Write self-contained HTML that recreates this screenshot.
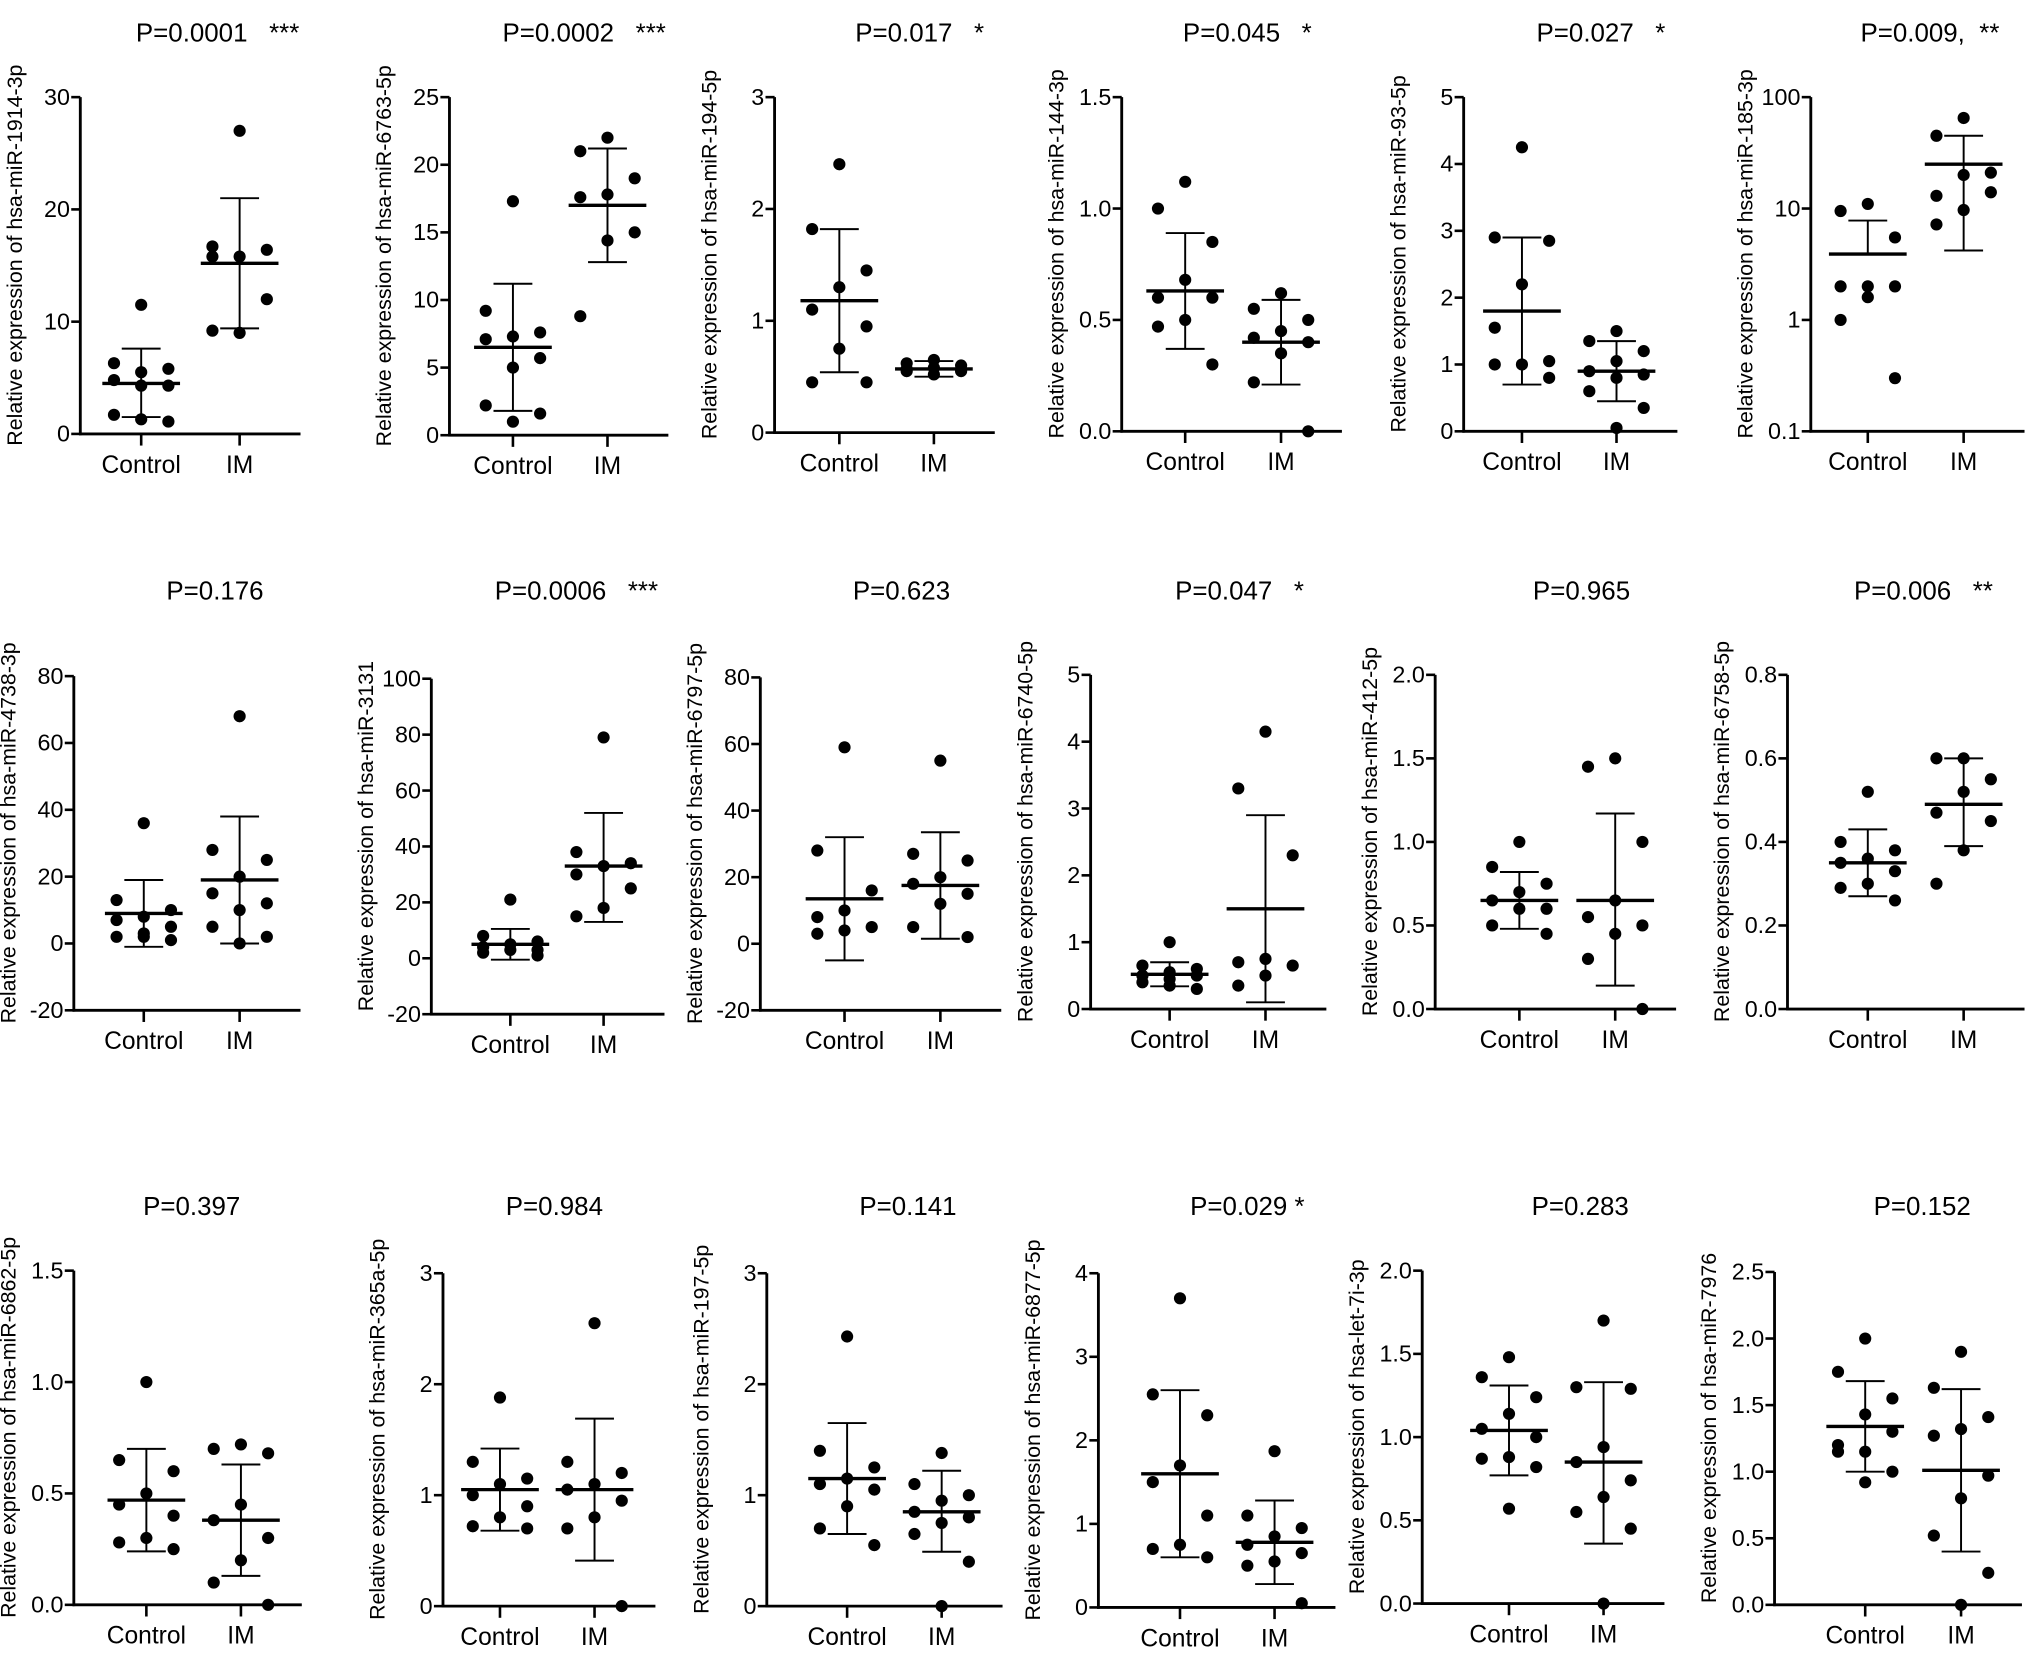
<!DOCTYPE html>
<html><head><meta charset="utf-8"><style>
html,body{margin:0;padding:0;background:#fff;}
svg{display:block;font-family:"Liberation Sans",Arial,sans-serif;}
text{white-space:pre;}
</style></head><body>
<svg id="fig" width="2031" height="1656" viewBox="0 0 1568 1278.5" preserveAspectRatio="none" xmlns="http://www.w3.org/2000/svg"></svg>
<script>
// ---- data ----
const titles = ["P=0.0001   ***","P=0.0002   ***","P=0.017   *","P=0.045   *","P=0.027   *","P=0.009,  **",
 "P=0.176","P=0.0006   ***","P=0.623","P=0.047   *","P=0.965","P=0.006   **",
 "P=0.397","P=0.984","P=0.141","P=0.029 *","P=0.283","P=0.152"];
const yLabels = ["hsa-miR-1914-3p","hsa-miR-6763-5p","hsa-miR-194-5p","hsa-miR-144-3p","hsa-miR-93-5p","hsa-miR-185-3p",
 "hsa-miR-4738-3p","hsa-miR-3131","hsa-miR-6797-5p","hsa-miR-6740-5p","hsa-miR-412-5p","hsa-miR-6758-5p",
 "hsa-miR-6862-5p","hsa-miR-365a-5p","hsa-miR-197-5p","hsa-miR-6877-5p","hsa-let-7i-3p","hsa-miR-7976"];
const categories = ["Control","IM"];
const yTicks = [[0,10,20,30],[0,5,10,15,20,25],[0,1,2,3],[0,0.5,1,1.5],[0,1,2,3,4,5],[0.1,1,10,100],
 [-20,0,20,40,60,80],[-20,0,20,40,60,80,100],[-20,0,20,40,60,80],[0,1,2,3,4,5],[0,0.5,1,1.5,2],[0,0.2,0.4,0.6,0.8],
 [0,0.5,1,1.5],[0,1,2,3],[0,1,2,3],[0,1,2,3,4],[0,0.5,1,1.5,2],[0,0.5,1,1.5,2,2.5]];
const tickFmt = [0,0,0,1,0,-1, 0,0,0,0,1,1, 1,0,0,0,1,1];
const controlVals = [
 [11.5,6.3,5.8,5.5,4.8,4.3,4.3,1.7,1.1,1.3],
 [17.3,9.2,7.6,7.3,7.1,5.7,5.0,2.2,1.6,1.0],
 [2.4,1.82,1.45,1.3,1.1,0.95,0.75,0.45,0.45],
 [1.12,1.0,0.85,0.68,0.6,0.6,0.5,0.47,0.3],
 [4.25,2.9,2.85,2.2,1.55,1.05,1.0,1.0,0.8],
 [11,9.5,5.5,2,2,2,1.6,1,0.3],
 [36,13,10,8,7,5,2,2,1,3],
 [21,8,6,5,4,3,3,2,1],
 [59,28,16,10,8,5,4,3],
 [1.0,0.65,0.6,0.55,0.5,0.5,0.45,0.4,0.3,0.35],
 [1.0,0.85,0.75,0.7,0.65,0.6,0.6,0.5,0.45],
 [0.52,0.4,0.38,0.36,0.35,0.33,0.3,0.29,0.26],
 [1.0,0.65,0.6,0.5,0.45,0.4,0.3,0.28,0.25],
 [1.88,1.3,1.15,1.1,1.0,0.9,0.8,0.72,0.7],
 [2.43,1.4,1.25,1.15,1.1,1.05,0.9,0.7,0.55],
 [3.7,2.55,2.3,1.7,1.5,1.1,0.75,0.7,0.6],
 [1.48,1.36,1.24,1.14,1.05,1.0,0.88,0.87,0.82,0.57],
 [2.0,1.75,1.55,1.43,1.2,1.3,1.15,1.15,1.0,0.92]];
const imVals = [
 [27,16.7,16.4,15.8,15.8,12,9.0,9.2],
 [22,21,19,17.8,17.6,15,14.4,8.8],
 [0.65,0.62,0.6,0.58,0.57,0.55,0.52,0.55],
 [0.62,0.55,0.5,0.45,0.42,0.4,0.35,0.22,0.0],
 [1.5,1.35,1.2,1.05,0.9,0.85,0.8,0.6,0.35,0.05],
 [65,45,21,20,13,14,9.7,7.2],
 [68,28,25,20,15,12,10,5,2,0],
 [79,38,34,33,30,25,18,15],
 [55,27,25,20,18,15,12,5,2],
 [4.15,3.3,2.3,0.75,0.7,0.65,0.5,0.35],
 [1.5,1.45,1.0,0.65,0.55,0.5,0.45,0.3,0.0],
 [0.6,0.6,0.55,0.52,0.47,0.45,0.38,0.3],
 [0.72,0.7,0.68,0.45,0.38,0.3,0.2,0.1,0.0],
 [2.55,1.3,1.2,1.1,1.05,0.95,0.8,0.7,0.0],
 [1.38,1.1,1.0,0.95,0.85,0.8,0.75,0.65,0.4,0.0],
 [1.87,1.1,0.95,0.85,0.75,0.65,0.55,0.5,0.05],
 [1.7,1.3,1.29,0.94,0.85,0.74,0.64,0.55,0.45,0.0],
 [1.9,1.63,1.41,1.32,1.27,0.97,0.8,0.52,0.24,0.0]];
const controlMean = [4.5,6.5,1.18,0.63,1.8,3.9, 9,5,13.5,0.52,0.65,0.35, 0.47,1.05,1.15,1.6,1.04,1.34];
const controlHi   = [7.6,11.2,1.82,0.89,2.9,7.8, 19,10.5,32,0.7,0.82,0.43, 0.7,1.42,1.65,2.6,1.31,1.68];
const controlLo   = [1.5,1.8,0.54,0.37,0.7,3.9, -1,-0.5,-5,0.34,0.48,0.27, 0.24,0.68,0.65,0.6,0.77,1.0];
const imMean = [15.2,17,0.57,0.4,0.9,25, 19,33,17.5,1.5,0.65,0.49, 0.38,1.05,0.85,0.78,0.85,1.01];
const imHi   = [21,21.2,0.64,0.59,1.35,45, 38,52,33.5,2.9,1.17,0.6, 0.63,1.69,1.22,1.28,1.33,1.62];
const imLo   = [9.4,12.8,0.5,0.21,0.45,4.2, 0,13,1.5,0.1,0.14,0.39, 0.13,0.41,0.49,0.28,0.36,0.4];
const jitter = [0,-1,1,0,-1,1,0,-1,1,0];

// ---- layout (display coords) ----
const L = [
 [62,335,75,109,185],[347,336,75,396,469],[598,334,75,648,721],[866,333,75,915,989],[1130,333,75,1175,1248],[1398,333,75,1442,1516],
 [57,780,522,111,185],[333,783,524,394,466],[587,780,523,652,726],[842,779,521,903,977],[1108,779,521,1173,1247],[1380,779,521,1442,1516],
 [57,1239,981,113,186],[342,1240,983,386,459],[592,1240,983,654,727],[848,1241,983,911,984],[1098,1238,981,1165,1238],[1370,1239,982,1440,1514]];
const titleX = [168,451,710,963,1236,1490, 166,445,696,957,1221,1485, 148,428,701,963,1220,1484];
const titleY = [25,25,25,25,25,25, 456,456,456,456,456,456, 931,931,931,931,931,931];

const svg = document.getElementById('fig');
const NS = 'http://www.w3.org/2000/svg';
function mk(tag, attrs, parent){const e=document.createElementNS(NS,tag);for(const k in attrs)e.setAttribute(k,attrs[k]);parent.appendChild(e);return e;}

for(let p=0;p<18;p++){
 const [ax,yb,yt,cx,ix]=L[p];
 const ticks=yTicks[p]; const isLog=tickFmt[p]===-1;
 const lo=ticks[0], hi=ticks[ticks.length-1];
 const Y = v => isLog ? yb-(Math.log10(Math.max(v,1e-3))-Math.log10(lo))/(Math.log10(hi)-Math.log10(lo))*(yb-yt)
                      : yb-(v-lo)/(hi-lo)*(yb-yt);
 const g=mk('g',{},svg);
 
 
 const t=mk('text',{x:titleX[p],y:titleY[p]+7,'font-size':20,'text-anchor':'middle'},g);
 t.textContent=titles[p];
 
 
 const yl=mk('text',{transform:`translate(${ax-45},${(yb+yt)/2-8}) rotate(-90)`,'font-size':16.5,'text-anchor':'middle'},g);
 yl.textContent='Relative expression of '+yLabels[p];
 
 
 const xEnd=ix+47;
 const ya=mk('line',{x1:ax,y1:yt,x2:ax,y2:yb+1,stroke:'#000','stroke-width':2.2},g);
 
 
 const xa=mk('line',{x1:ax-1,y1:yb,x2:xEnd,y2:yb,stroke:'#000','stroke-width':2.2},g);
 
 
 ticks.forEach(tv=>{
  const y=Y(tv);
  mk('line',{x1:ax-7,y1:y,x2:ax,y2:y,stroke:'#000','stroke-width':2},g);
  const tl=mk('text',{x:ax-8,y:y+6,'font-size':18,'text-anchor':'end'},g);
  tl.textContent = isLog? String(tv) : (tickFmt[p]===1? tv.toFixed(1): String(tv));
  
  
 });
 [cx,ix].forEach((x,k)=>{
  mk('line',{x1:x,y1:yb,x2:x,y2:yb+9,stroke:'#000','stroke-width':2},g);
  const xl=mk('text',{x:x,y:yb+30,'font-size':19,'text-anchor':'middle'},g);
  xl.textContent=categories[k];
  
  
 });
 const groups=[[cx,controlVals[p],controlMean[p],controlHi[p],controlLo[p],'control'],[ix,imVals[p],imMean[p],imHi[p],imLo[p],'im']];
 groups.forEach(([x,vals,m,h,l,nm])=>{
  const eb=mk('line',{x1:x,y1:Y(h),x2:x,y2:Y(l),stroke:'#000','stroke-width':1.5},g);
  
  
  mk('line',{x1:x-15,y1:Y(h),x2:x+15,y2:Y(h),stroke:'#000','stroke-width':1.5},g);
  if(l!==m) mk('line',{x1:x-15,y1:Y(l),x2:x+15,y2:Y(l),stroke:'#000','stroke-width':1.5},g);
  const ml=mk('line',{x1:x-30,y1:Y(m),x2:x+30,y2:Y(m),stroke:'#000','stroke-width':2.6},g);
  
  
  vals.forEach((v,i)=>{
   const c=mk('circle',{cx:x+jitter[i]*21,cy:Y(v),r:4.7,fill:'#000'},g);
   
   
  });
 });
}
</script>
</body></html>
